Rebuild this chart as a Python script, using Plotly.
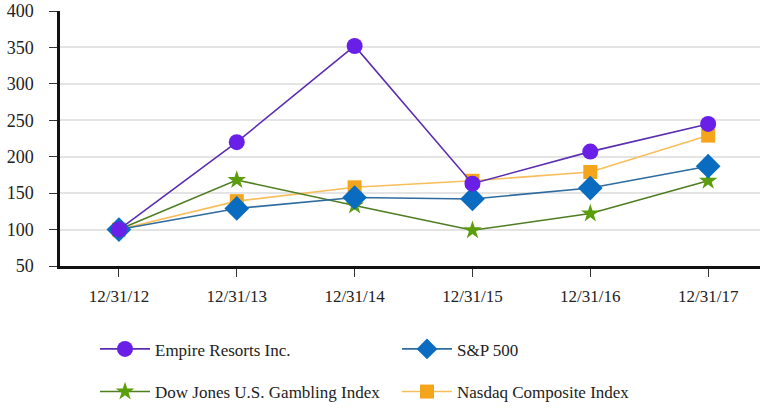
import plotly.graph_objects as go

dates = ["12/31/12", "12/31/13", "12/31/14", "12/31/15", "12/31/16", "12/31/17"]
empire = [100, 220, 352, 163, 207, 245]
sp500 = [100, 129, 144, 142, 157, 187]
dowjones = [100, 168, 133, 99, 122, 167]
nasdaq = [100, 139, 158, 167, 179, 229]

FONT = "'Liberation Serif', 'Times New Roman', Times, serif"

fig = go.Figure()

series = [
    ("Empire Resorts Inc.", empire, "#5B2DB0", "#6A1FE8", "circle", 16, "legend"),
    ("S&P 500", sp500, "#2E6B9E", "#0A6CC0", "diamond", 19, "legend2"),
    ("Dow Jones U.S. Gambling Index", dowjones, "#4F7D22", "#5A9E0A", "star", 14, "legend3"),
    ("Nasdaq Composite Index", nasdaq, "#F7BE5A", "#F5A51C", "square", 14, "legend4"),
]
for name, vals, lc, mc, sym, sz, lg in [series[3], series[2], series[1], series[0]]:
    fig.add_trace(go.Scatter(
        x=dates, y=vals, name=name, mode="lines+markers",
        line=dict(color=lc, width=1.6),
        marker=dict(color=mc, symbol=sym, size=sz, line=dict(width=0)),
        legend=lg, showlegend=True,
    ))

def legend_at(xpx, ypx):
    return dict(
        x=(xpx - 60) / 700, y=(268 - ypx) / 257, xanchor="left", yanchor="middle",
        font=dict(family=FONT, size=17, color="#222"), bgcolor="rgba(0,0,0,0)",
        itemwidth=50,
    )

fig.update_layout(
    width=760, height=410,
    showlegend=True,
    margin=dict(l=60, r=0, t=11, b=142),
    paper_bgcolor="white", plot_bgcolor="white",
    font=dict(family=FONT, color="#222"),
    xaxis=dict(
        type="category", range=[-0.5, 5.44],
        showline=True, linecolor="#111", linewidth=2.5,
        ticks="outside", ticklen=8, tickcolor="#333", tickwidth=1.2,
        tickfont=dict(family=FONT, size=17, color="#222"),
        ticklabelstandoff=5, showgrid=False, zeroline=False,
    ),
    yaxis=dict(
        range=[50, 400], dtick=50, tick0=50,
        showline=True, linecolor="#111", linewidth=2.5,
        ticks="outside", ticklen=8, tickcolor="#333", tickwidth=1.2,
        tickfont=dict(family=FONT, size=18, color="#222"),
        ticklabelstandoff=12,
        showgrid=True, gridcolor="#E4E4E4", gridwidth=1.5, zeroline=False,
    ),
    legend=legend_at(95, 352),
    legend2=legend_at(397, 352),
    legend3=legend_at(95, 395),
    legend4=legend_at(397, 395),
)

fig.write_html("out.html")
